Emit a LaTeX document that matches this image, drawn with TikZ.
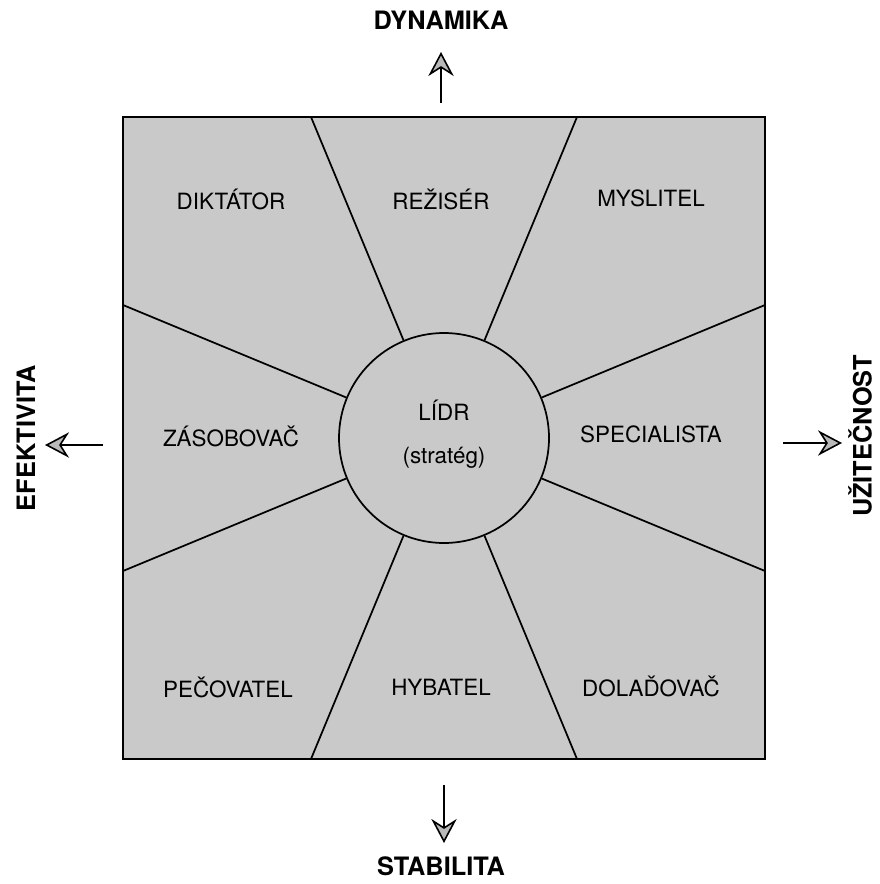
\documentclass[tikz,border=0pt]{standalone}
\usepackage{fontspec}
\setmainfont{TeX Gyre Heros}
\usetikzlibrary{arrows.meta}
\begin{document}
\begin{tikzpicture}[x=0.75pt,y=-0.75pt,
  region/.style={font=\fontsize{16.8}{19}\selectfont},
  axislabel/.style={font=\fontsize{19}{22}\selectfont\bfseries},
  spoke/.style={line width=1.3pt},
  axisarrow/.style={line width=1.2pt,-{Stealth[length=18pt,width=19pt,inset=6pt,fill=gray!55]}}
]
\useasboundingbox (0,0) rectangle (879,884);
% square
\node[draw,line width=1.7pt,fill=gray!42,minimum width=642*0.75pt,minimum height=642*0.75pt,inner sep=0pt] (sq) at (444,438) {};
% edge points of spokes
\coordinate (e1) at (311,117);
\coordinate (e2) at (577,117);
\coordinate (e3) at (765,305);
\coordinate (e4) at (765,571);
\coordinate (e5) at (577,759);
\coordinate (e6) at (311,759);
\coordinate (e7) at (123,571);
\coordinate (e8) at (123,305);
% hub
\node[draw,circle,line width=1.3pt,fill=gray!42,minimum size=210*0.75pt,inner sep=0pt] (hub) at (444,438) {};
\foreach \e in {e1,e2,e3,e4,e5,e6,e7,e8}{\draw[spoke] (hub) -- (\e);}
\node[region] (lidr) at (444,410) {LÍDR};
\node[region] (strat) at (444,458) {(stratég)};
% regions
\node[region] (dik) at (231,199) {DIKTÁTOR};
\node[region] (rez) at (441,199) {REŽISÉR};
\node[region] (mys) at (651,198) {MYSLITEL};
\node[region] (zas) at (231,436) {ZÁSOBOVAČ};
\node[region] (spe) at (651,434) {SPECIALISTA};
\node[region] (pec) at (228,687) {PEČOVATEL};
\node[region] (hyb) at (441,687) {HYBATEL};
\node[region] (dol) at (651,686) {DOLAĎOVAČ};
% axis labels
\node[axislabel] (dyn) at (441,20) {DYNAMIKA};
\node[axislabel] (sta) at (441,866) {STABILITA};
\node[axislabel,rotate=90] (efe) at (26,438) {EFEKTIVITA};
\node[axislabel,rotate=90,inner sep=0pt] (uzi) at (860,436) {UŽITEČNOST};
% arrows
\coordinate (a1s) at (441,103); \coordinate (a1t) at (441,52);
\coordinate (a2s) at (444,785); \coordinate (a2t) at (444,843);
\coordinate (a3s) at (103,445); \coordinate (a3t) at (45,445);
\coordinate (a4s) at (783,443); \coordinate (a4t) at (842,443);
\draw[axisarrow] (a1s) -- (a1t);
\draw[axisarrow] (a2s) -- (a2t);
\draw[axisarrow] (a3s) -- (a3t);
\draw[axisarrow] (a4s) -- (a4t);
\end{tikzpicture}
\end{document}
